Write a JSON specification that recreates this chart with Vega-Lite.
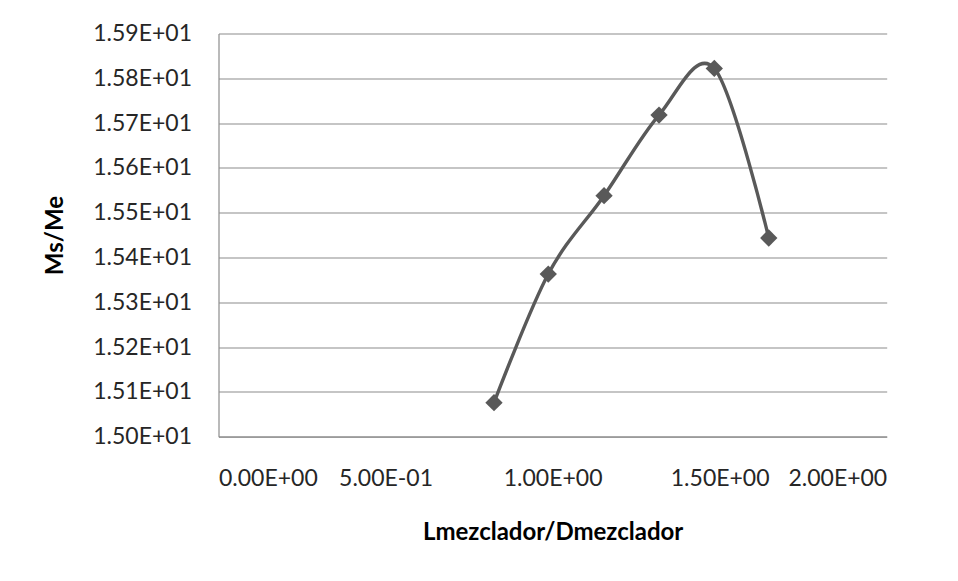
{
  "$schema": "https://vega.github.io/schema/vega-lite/v6.json",
  "autosize": "none",
  "padding": {"left": 218.5, "top": 33.5, "right": 71.3, "bottom": 144.3},
  "width": 668.2,
  "height": 403.2,
  "background": "white",
  "config": {
    "view": {"stroke": null},
    "font": "Lato",
    "axis": {
      "labelFont": "Lato",
      "titleFont": "Lato",
      "labelFontSize": 23,
      "titleFontSize": 24,
      "labelColor": "#262626",
      "titleColor": "#000000",
      "titleFontWeight": "bold",
      "ticks": false,
      "tickSize": 0,
      "domainColor": "#8c8c8c",
      "domainWidth": 1.2,
      "gridColor": "#8c8c8c",
      "gridWidth": 1.2
    }
  },
  "data": {
    "values": [
      {"ratio": 0.8246, "msme": 15.076},
      {"ratio": 0.987, "msme": 15.363},
      {"ratio": 1.154, "msme": 15.538},
      {"ratio": 1.3185, "msme": 15.718},
      {"ratio": 1.484, "msme": 15.822},
      {"ratio": 1.647, "msme": 15.4435}
    ]
  },
  "encoding": {
    "x": {
      "field": "ratio",
      "type": "quantitative",
      "title": "Lmezclador/Dmezclador",
      "scale": {"domain": [0, 2], "nice": false, "zero": false},
      "axis": {
        "values": [0, 0.5, 1, 1.5, 2],
        "grid": false,
        "labelPadding": 31,
        "titlePadding": 30,
        "labelExpr": "replace(replace(format(datum.value, '.2e'), 'e+', 'E+0'), 'e-', 'E-0')"
      }
    },
    "y": {
      "field": "msme",
      "type": "quantitative",
      "title": "Ms/Me",
      "scale": {"domain": [15.0, 15.9], "nice": false, "zero": false},
      "axis": {
        "values": [15.0, 15.1, 15.2, 15.3, 15.4, 15.5, 15.6, 15.7, 15.8, 15.9],
        "grid": true,
        "labelPadding": 27,
        "titlePadding": 25,
        "labelExpr": "replace(replace(format(datum.value, '.2e'), 'e+', 'E+0'), 'e-', 'E-0')"
      }
    }
  },
  "layer": [
    {
      "mark": {"type": "line", "interpolate": "cardinal", "color": "#595959", "strokeWidth": 3.4}
    },
    {
      "mark": {"type": "point", "shape": "diamond", "filled": true, "color": "#595959", "size": 300, "opacity": 1}
    }
  ]
}
